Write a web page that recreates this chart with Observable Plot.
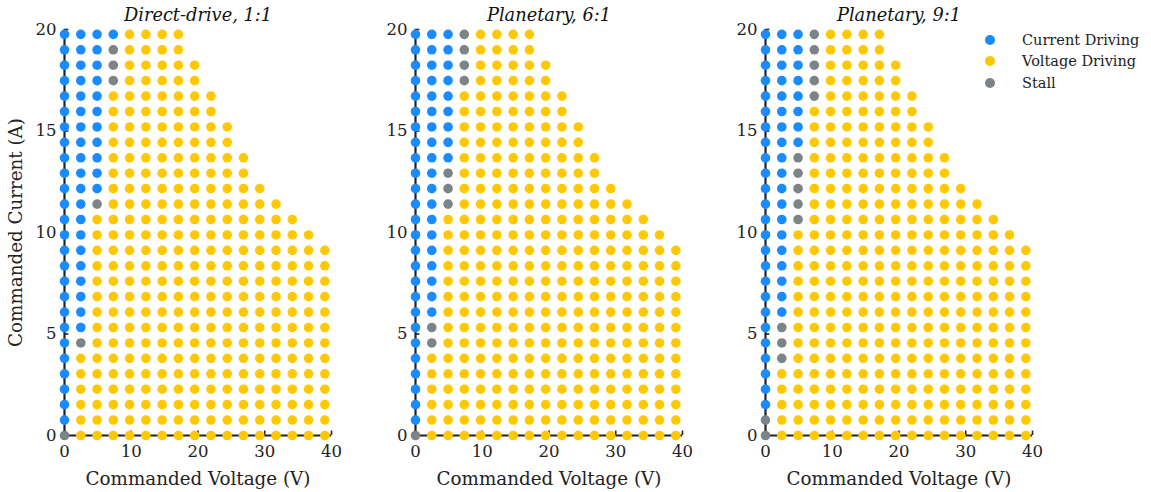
<!DOCTYPE html>
<html>
<head>
<meta charset="utf-8">
<script src="https://cdn.jsdelivr.net/npm/d3@7"></script>
<script src="https://cdn.jsdelivr.net/npm/@observablehq/plot@0.6"></script>
<style>
  html, body { margin: 0; padding: 0; background: #fff; }
  #root { position: relative; width: 1151px; height: 492px; overflow: hidden; font-family: "DejaVu Serif", serif; }
  .panel { position: absolute; top: 0; }
  .legend { position: absolute; left: 982px; top: 29px; font-family: "DejaVu Serif", serif; font-size: 14.5px; color: #222; }
  .legend div { display: flex; align-items: center; height: 21.5px; }
  .legend span.sw { display: inline-block; width: 10px; height: 10px; border-radius: 50%; margin-left: 3px; margin-right: 27px; }
</style>
</head>
<body>
<div id="root"></div>
<script>
// Commanded voltage grid (V), column 0..16
const voltages = [0, 2.44, 4.88, 7.31, 9.75, 12.19, 14.63, 17.06, 19.5, 21.94, 24.38, 26.81, 29.25, 31.69, 34.13, 36.56, 39];
// Commanded current grid (A), row 0..26 (bottom to top)
const currents = [0, 0.76, 1.52, 2.28, 3.04, 3.80, 4.56, 5.32, 6.08, 6.84, 7.60, 8.36, 9.12, 9.88, 10.64, 11.40, 12.16, 12.92, 13.68, 14.44, 15.20, 15.96, 16.72, 17.48, 18.24, 19.00, 19.76];

const panelTitles = ["Direct-drive, 1:1", "Planetary, 6:1", "Planetary, 9:1"];
const statusNames = ["Current Driving", "Voltage Driving", "Stall"];
const statusCodes = ["C", "V", "S"];
const statusColors = ["#1a8cff", "#ffc805", "#7c8488"];
const xTicks = [0, 10, 20, 30, 40];
const yTicks = [0, 5, 10, 15, 20];

// Status per grid cell: one string per current row (top row first), one char per voltage column
const directDrive = [
  "CCCCVVVV",
  "CCCSVVVV",
  "CCCSVVVVV",
  "CCCSVVVVV",
  "CCCVVVVVVV",
  "CCCVVVVVVV",
  "CCCVVVVVVVV",
  "CCCVVVVVVVV",
  "CCCVVVVVVVVV",
  "CCCVVVVVVVVV",
  "CCCVVVVVVVVVV",
  "CCSVVVVVVVVVVV",
  "CCVVVVVVVVVVVVV",
  "CCVVVVVVVVVVVVVV",
  "CCVVVVVVVVVVVVVVV",
  "CCVVVVVVVVVVVVVVV",
  "CCVVVVVVVVVVVVVVV",
  "CCVVVVVVVVVVVVVVV",
  "CCVVVVVVVVVVVVVVV",
  "CCVVVVVVVVVVVVVVV",
  "CSVVVVVVVVVVVVVVV",
  "CVVVVVVVVVVVVVVVV",
  "CVVVVVVVVVVVVVVVV",
  "CVVVVVVVVVVVVVVVV",
  "CVVVVVVVVVVVVVVVV",
  "CVVVVVVVVVVVVVVVV",
  "SVVVVVVVVVVVVVVVV"
];
const planetary6 = [
  "CCCSVVVV",
  "CCCSVVVV",
  "CCCSVVVVV",
  "CCCSVVVVV",
  "CCCVVVVVVV",
  "CCCVVVVVVV",
  "CCCVVVVVVVV",
  "CCCVVVVVVVV",
  "CCCVVVVVVVVV",
  "CCSVVVVVVVVV",
  "CCSVVVVVVVVVV",
  "CCSVVVVVVVVVVV",
  "CCVVVVVVVVVVVVV",
  "CCVVVVVVVVVVVVVV",
  "CCVVVVVVVVVVVVVVV",
  "CCVVVVVVVVVVVVVVV",
  "CCVVVVVVVVVVVVVVV",
  "CCVVVVVVVVVVVVVVV",
  "CCVVVVVVVVVVVVVVV",
  "CSVVVVVVVVVVVVVVV",
  "CSVVVVVVVVVVVVVVV",
  "CVVVVVVVVVVVVVVVV",
  "CVVVVVVVVVVVVVVVV",
  "CVVVVVVVVVVVVVVVV",
  "CVVVVVVVVVVVVVVVV",
  "CVVVVVVVVVVVVVVVV",
  "SVVVVVVVVVVVVVVVV"
];
const planetary9 = [
  "CCCSVVVV",
  "CCCSVVVV",
  "CCCSVVVVV",
  "CCCSVVVVV",
  "CCCSVVVVVV",
  "CCCVVVVVVV",
  "CCCVVVVVVVV",
  "CCCVVVVVVVV",
  "CCSVVVVVVVVV",
  "CCSVVVVVVVVV",
  "CCSVVVVVVVVVV",
  "CCSVVVVVVVVVVV",
  "CCSVVVVVVVVVVVV",
  "CCVVVVVVVVVVVVVV",
  "CCVVVVVVVVVVVVVVV",
  "CCVVVVVVVVVVVVVVV",
  "CCVVVVVVVVVVVVVVV",
  "CCVVVVVVVVVVVVVVV",
  "CCVVVVVVVVVVVVVVV",
  "CSVVVVVVVVVVVVVVV",
  "CSVVVVVVVVVVVVVVV",
  "CSVVVVVVVVVVVVVVV",
  "CVVVVVVVVVVVVVVVV",
  "CVVVVVVVVVVVVVVVV",
  "CVVVVVVVVVVVVVVVV",
  "SVVVVVVVVVVVVVVVV",
  "SVVVVVVVVVVVVVVVV"
];
const panelGrids = [directDrive, planetary6, planetary9];

function toPoints(grid) {
  const pts = [];
  const nRows = grid.length;
  grid.forEach((row, ri) => {
    const current = currents[nRows - 1 - ri];
    [...row].forEach((code, ci) => {
      pts.push({ voltage: voltages[ci], current, status: statusNames[statusCodes.indexOf(code)] });
    });
  });
  return pts;
}

const layout = [
  { left: 0, width: 350, marginLeft: 64, marginRight: 19 },
  { left: 350, width: 350, marginLeft: 65, marginRight: 18 },
  { left: 700, width: 451, marginLeft: 65, marginRight: 119 }
];

const root = document.getElementById("root");
const font = "DejaVu Serif, serif";

panelGrids.forEach((grid, i) => {
  const L = layout[i];
  const pts = toPoints(grid);
  const plot = Plot.plot({
    width: L.width,
    height: 492,
    marginLeft: L.marginLeft,
    marginRight: L.marginRight,
    marginTop: 29,
    marginBottom: 57,
    style: { fontFamily: font, fontSize: "15px", color: "#222", background: "transparent", overflow: "visible" },
    x: { type: "linear", domain: [0, 40], label: null },
    y: { type: "linear", domain: [0, 20], label: null },
    color: { domain: statusNames, range: statusColors },
    marks: [
      Plot.ruleY([0], { x1: 0, x2: 40, stroke: "#222", strokeWidth: 2.2 }),
      Plot.ruleX([0], { y1: 0, y2: 20, stroke: "#222", strokeWidth: 2.2 }),
      Plot.ruleX(xTicks, { x: d => d, y1: 0, y2: 0.22, stroke: "#222", strokeWidth: 1.6 }),
      Plot.ruleY(yTicks, { y: d => d, x1: 0, x2: 0.65, stroke: "#222", strokeWidth: 1.6 }),
      Plot.axisX({ ticks: xTicks, tickSize: 0, tickPadding: 10, fontSize: 16.5, label: null }),
      Plot.axisY({ ticks: yTicks, tickSize: 0, tickPadding: 8, fontSize: 16.5, label: null }),
      Plot.axisX({ ticks: [], label: "Commanded Voltage (V)", labelAnchor: "center", labelArrow: "none", labelOffset: 49, fontSize: 18.3 }),
      ...(i === 0 ? [Plot.axisY({ ticks: [], label: "Commanded Current (A)", labelAnchor: "center", labelOffset: 56, labelArrow: "none", fontSize: 18.3 })] : []),
      Plot.dot(pts, { x: "voltage", y: "current", fill: "status", r: 4.8, stroke: null }),
      Plot.text([panelTitles[i]], { frameAnchor: "top", dy: -21, fontSize: 17.8, fontStyle: "italic", fill: "#111" })
    ]
  });
  plot.classList.add("panel");
  plot.style.left = L.left + "px";
  root.appendChild(plot);
});

// Legend
const legend = document.createElement("div");
legend.className = "legend";
statusNames.forEach((name, k) => {
  const row = document.createElement("div");
  const sw = document.createElement("span");
  sw.className = "sw";
  sw.style.background = statusColors[k];
  row.appendChild(sw);
  row.appendChild(document.createTextNode(name));
  legend.appendChild(row);
});
root.appendChild(legend);
</script>
</body>
</html>
